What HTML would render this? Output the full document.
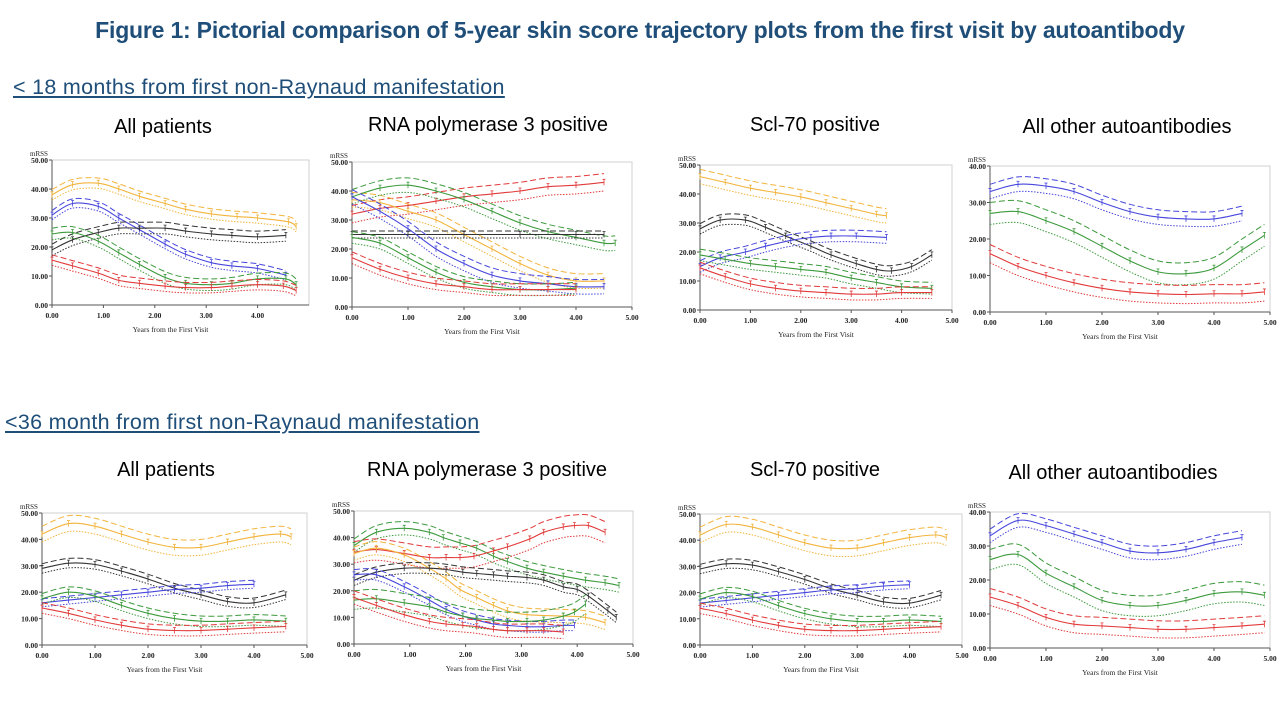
<!DOCTYPE html>
<html><head><meta charset="utf-8">
<style>
body{margin:0;width:1280px;height:720px;background:#fff;overflow:hidden;position:relative;font-family:"Liberation Sans",sans-serif}
.t{position:absolute;white-space:nowrap}
#main-title{left:0;width:1280px;text-align:center;top:17px;font-size:23px;font-weight:bold;color:#1f4e79;letter-spacing:-0.2px}
.sec{font-size:21.5px;color:#1f4e79;text-decoration:underline;letter-spacing:0.3px}
.ct{font-size:20px;color:#000;text-align:center;width:300px}
svg{position:absolute;left:0;top:0}
</style></head><body>
<div class="t" id="main-title">Figure 1: Pictorial comparison of 5-year skin score trajectory plots from the first visit by autoantibody</div>
<div class="t sec" style="left:13px;top:75px">&lt; 18 months from first non-Raynaud manifestation</div>
<div class="t sec" style="left:5px;top:410px">&lt;36 month from first non-Raynaud manifestation</div>
<div class="t ct" style="left:13px;top:116px">All patients</div>
<div class="t ct" style="left:338px;top:114px">RNA polymerase 3 positive</div>
<div class="t ct" style="left:665px;top:114px">Scl-70 positive</div>
<div class="t ct" style="left:977px;top:116px">All other autoantibodies</div>
<div class="t ct" style="left:16px;top:459px">All patients</div>
<div class="t ct" style="left:337px;top:459px">RNA polymerase 3 positive</div>
<div class="t ct" style="left:665px;top:459px">Scl-70 positive</div>
<div class="t ct" style="left:963px;top:462px">All other autoantibodies</div>
<svg id="svg" width="1280" height="720"></svg>
<script>
// ---- data (x = years, y = mRSS) ----
const c1Orange=[[0,38],[0.4,41.5],[0.9,42],[1.3,40],[1.7,37.5],[2.2,35],[2.6,33],[3.1,31.4],[3.6,30.5],[4.0,30],[4.6,28.7],[4.75,27]];
const c1Blue=[[0,31],[0.4,35],[0.9,34],[1.3,30],[1.7,26],[2.2,21],[2.6,17.5],[3.1,14.6],[3.5,13.5],[4.0,12.6],[4.55,10.3]];
const c1Black=[[0,19],[0.4,22.5],[0.9,25],[1.3,26.5],[1.7,26.5],[2.2,26.5],[2.6,25.5],[3.1,24.5],[3.5,24],[4.0,23.5],[4.55,24]];
const c1Green=[[0,24.5],[0.4,25],[0.9,22],[1.3,18],[1.7,14],[2.2,9.5],[2.6,7.5],[3.1,7],[3.5,7.5],[4.0,9],[4.55,9],[4.75,7]];
const c1Red=[[0,15.5],[0.4,13.5],[0.9,11],[1.3,8.5],[1.7,7.5],[2.2,6.5],[2.6,6],[3.1,6],[3.5,6.5],[4.0,7],[4.5,6.5],[4.75,5]];

const c2Red=[[0,32],[0.5,34],[1,35],[1.5,36.5],[2,38],[2.5,39],[3,40],[3.5,41.5],[4,42],[4.5,43]];
const c2Orange=[[0,37],[0.5,36],[1,33],[1.5,30],[2,25],[2.5,20],[3,15],[3.5,11],[4,9],[4.5,9]];
const c2Green=[[0,38],[0.5,41],[1,42],[1.5,40],[2,37],[2.5,33],[3,29],[3.5,26],[4,24],[4.5,22],[4.7,22]];
const c2Black=[[0,25],[1,25],[2,25],[3,25],[4,25],[4.5,25]];
const c2Blue=[[0,38],[0.5,33],[1,27],[1.5,20],[2,15],[2.5,11],[3,9],[3.5,8],[4,7],[4.5,7]];
const c2Green2=[[0,24],[0.5,22],[1,17],[1.5,12],[2,8.5],[2.5,7],[3,6],[3.5,6],[4,6.5]];
const c2Red2=[[0,17],[0.5,13],[1,10],[1.5,8],[2,7],[2.5,6],[3,6],[3.5,6],[4,6]];

const c3Orange=[[0,46],[0.5,44],[1,42],[1.5,40.5],[2,39],[2.5,37],[3,35],[3.5,33],[3.7,32.5]];
const c3Black=[[0,28],[0.4,31],[0.9,31],[1.3,28.5],[1.7,25.5],[2.2,22],[2.6,19],[3.1,16],[3.5,14],[3.8,13.5],[4.2,15],[4.6,19]];
const c3Blue=[[0,15],[0.4,18],[0.9,20],[1.3,22],[1.8,24],[2.2,25],[2.6,25.5],[3.1,25.5],[3.7,25]];
const c3Green=[[0,19],[0.5,17.5],[1,16],[1.5,15],[2,14],[2.5,13],[3,11],[3.5,9.5],[4,8],[4.6,7.5]];
const c3Red=[[0,14.5],[0.5,11.5],[1,9],[1.5,7.5],[2,6.5],[2.5,6],[3,5.5],[3.5,5.5],[4,6],[4.6,6]];

const c4Blue=[[0,33],[0.5,35],[1,34.5],[1.5,33],[2,30],[2.5,27.5],[3,26],[3.5,25.5],[4,25.5],[4.5,27]];
const c4Green=[[0,27],[0.5,27.5],[1,25],[1.5,22],[2,18],[2.5,14],[3,11],[3.5,10.5],[4,12],[4.5,17],[4.9,21]];
const c4Red=[[0,16],[0.5,12.5],[1,10],[1.5,8],[2,6.5],[2.5,5.5],[3,5],[3.5,4.8],[4,5],[4.5,5],[4.9,5.5]];

const c5Orange=[[0,42],[0.5,46],[1,45],[1.5,42],[2,39],[2.5,37],[3,37],[3.5,39],[4,41],[4.5,42],[4.7,41]];
const c5Black=[[0,29],[0.5,31],[1,30.5],[1.5,28],[2,25],[2.5,21.5],[3,19],[3.5,16.5],[4,16],[4.6,19]];
const c5Blue=[[0,16],[0.5,17],[1,18],[1.5,19],[2,20],[2.5,21],[3,21.5],[3.5,22.5],[4,23]];
const c5Green=[[0,17.5],[0.5,20],[1,18.5],[1.5,15],[2,12],[2.5,10],[3,9],[3.5,9],[4,9.5],[4.6,9]];
const c5Red=[[0,14],[0.5,12],[1,9.5],[1.5,7.5],[2,6],[2.5,5.5],[3,5.5],[3.5,6],[4,6.5],[4.6,7]];

const c6Green=[[0,37],[0.4,42],[0.9,43.5],[1.35,42],[1.6,40],[1.9,38],[2.2,36],[2.5,33],[2.75,31],[3.1,28.5],[3.4,27],[3.75,25.5],[4.15,24],[4.5,23],[4.75,22]];
const c6Red=[[0,34.5],[0.4,35.5],[0.9,34],[1.35,32.5],[1.65,32.5],[1.9,32.5],[2.15,33],[2.5,35],[2.75,36.5],[3.15,39.5],[3.4,42],[3.75,44],[3.95,44.5],[4.2,44.5],[4.5,42]];
const c6Orange=[[0,34],[0.4,36],[0.9,33.5],[1.35,28.5],[1.65,24.5],[1.9,20.5],[2.2,17.5],[2.5,14.5],[2.75,12.5],[3.1,11],[3.75,10.5],[4.15,10],[4.5,8]];
const c6Black=[[0,24],[0.4,27],[0.9,28.5],[1.35,28.5],[1.65,28],[1.95,27],[2.2,26.5],[2.5,26],[2.75,25.5],[3.1,25],[3.4,24],[3.75,21.5],[4.0,20.5],[4.2,18],[4.55,12.5],[4.7,10]];
const c6Blue=[[0,26],[0.4,26],[0.9,21.5],[1.35,16.5],[1.65,13],[1.95,10.5],[2.2,9],[2.5,7.5],[2.75,7],[3.1,6.5],[3.4,6.5],[3.75,7],[3.95,7]];
const c6Green2=[[0,16.5],[0.4,17],[0.9,15.5],[1.35,14],[1.65,12],[1.95,10.5],[2.2,9.5],[2.5,9],[2.75,8.5],[3.1,8.5],[3.4,9],[3.75,10.5],[3.95,12],[4.15,15]];
const c6Red2=[[0,17.5],[0.4,14.5],[0.9,11],[1.35,8.5],[1.65,7.5],[1.95,7],[2.2,6.5],[2.5,5.5],[2.75,5],[3.1,5],[3.4,5],[3.75,4.5]];

const c8Blue=[[0,33],[0.5,37.5],[1,36],[1.5,33.5],[2,31],[2.5,28.5],[3,28],[3.5,29],[4,31],[4.5,32.5]];
const c8Green=[[0,26],[0.5,27.5],[1,22],[1.5,18],[2,14],[2.5,12.5],[3,12.5],[3.5,14],[4,16],[4.5,16.5],[4.9,15.5]];
const c8Red=[[0,15],[0.5,12.5],[1,9],[1.5,7],[2,6.5],[2.5,6],[3,5.5],[3.5,5.5],[4,6],[4.5,6.5],[4.9,7]];

const yTicks50=[0,10,20,30,40,50];
const yTicks40=[0,10,20,30,40];
const xTickLabels=["0.00","1.00","2.00","3.00","4.00","5.00"];

const COL={orange:"#f2b43c",blue:"#4646dc",black:"#333333",green:"#3c9a3c",red:"#e23a3a"};
const svg=document.getElementById('svg');
const NS="http://www.w3.org/2000/svg";
function mk(tag,at,parent){const e=document.createElementNS(NS,tag);for(const k in at)e.setAttribute(k,at[k]);(parent||svg).appendChild(e);return e;}
function smooth(a){
  let d=`M${a[0][0].toFixed(1)},${a[0][1].toFixed(1)}`;
  for(let i=0;i<a.length-1;i++){
    const p0=a[Math.max(0,i-1)],p1=a[i],p2=a[i+1],p3=a[Math.min(a.length-1,i+2)];
    const c1=[p1[0]+(p2[0]-p0[0])/6,p1[1]+(p2[1]-p0[1])/6];
    const c2=[p2[0]-(p3[0]-p1[0])/6,p2[1]-(p3[1]-p1[1])/6];
    d+=`C${c1[0].toFixed(1)},${c1[1].toFixed(1)} ${c2[0].toFixed(1)},${c2[1].toFixed(1)} ${p2[0].toFixed(1)},${p2[1].toFixed(1)}`;
  }
  return d;
}
function chart(name,g,ticks,series,showX5){
  const grp=mk('g',{});
  
  
  const ymax=ticks[ticks.length-1];
  const X=v=>g.x0+v*(g.x5-g.x0)/5;
  const Y=v=>g.y0-v*(g.y0-g.yt)/ymax;
  mk('rect',{x:g.x0,y:g.yt,width:g.x5-g.x0,height:g.y0-g.yt,fill:'none',stroke:'#d0d0d0','stroke-width':1},grp);
  const ax=mk('path',{d:`M${g.x0},${g.yt}V${g.y0}H${g.x5}`,stroke:'#555',fill:'none','stroke-width':1},grp);
  
  
  ticks.forEach(t=>{
    mk('line',{x1:g.x0-3,x2:g.x0,y1:Y(t),y2:Y(t),stroke:'#555'},grp);
    const tx=mk('text',{x:g.x0-4,y:Y(t)+3,'font-size':7.5,'font-family':'Liberation Serif, serif','font-weight':'bold','text-anchor':'end',fill:'#222'},grp);
    tx.textContent=t.toFixed(2);
    
    
  });
  xTickLabels.forEach((l,i)=>{
    if(i===5&&!showX5)return;
    mk('line',{x1:X(i),x2:X(i),y1:g.y0,y2:g.y0+3,stroke:'#555'},grp);
    const tx=mk('text',{x:X(i),y:g.y0+13,'font-size':7.5,'font-family':'Liberation Serif, serif','font-weight':'bold','text-anchor':'middle',fill:'#222'},grp);
    tx.textContent=l;
    
    
  });
  const yl=mk('text',{x:g.x0-22,y:g.yt-4,'font-size':7,'font-family':'Liberation Serif, serif',fill:'#222'},grp);
  yl.textContent='mRSS';
  
  
  const xl=mk('text',{x:(g.x0+g.x5)/2-10,y:g.y0+27,'font-size':7.5,'font-family':'Liberation Serif, serif','text-anchor':'middle',fill:'#222'},grp);
  xl.textContent='Years from the First Visit';
  
  
  series.forEach(s=>{
    const c=COL[s.c];
    const pts=s.d.map(p=>[X(p[0]),Y(p[1])]);
    const up=s.d.map(p=>[X(p[0]),Y(p[1]+s.b)]);
    const lo=s.d.map(p=>[X(p[0]),Y(Math.max(0,p[1]-s.b))]);
    const u=mk('path',{d:smooth(up),fill:'none',stroke:c,'stroke-width':1,'stroke-dasharray':'6,3'},grp);
    
    
    const l=mk('path',{d:smooth(lo),fill:'none',stroke:c,'stroke-width':1,'stroke-dasharray':'1.5,1.5'},grp);
    
    
    const m=mk('path',{d:smooth(pts),fill:'none',stroke:c,'stroke-width':1.1},grp);
    
    
    pts.forEach(p=>{
      const mkr=mk('path',{d:`M${p[0]-1.5},${p[1]-3}L${p[0]+1.5},${p[1]-3}M${p[0]},${p[1]-3}V${p[1]+3}`,stroke:c,'stroke-width':0.8,fill:'none'},grp);
      
      
    });
  });
}
chart('chart-all-patients-18',{x0:52,x5:309,yt:160,y0:305},yTicks50,[
 {c:'orange',d:c1Orange,b:1.8},{c:'blue',d:c1Blue,b:1.6},{c:'black',d:c1Black,b:2},{c:'green',d:c1Green,b:2},{c:'red',d:c1Red,b:1.8}],false);
chart('chart-rna-pol3-18',{x0:352,x5:632,yt:162,y0:307},yTicks50,[
 {c:'red',d:c2Red,b:3},{c:'orange',d:c2Orange,b:2.5},{c:'green',d:c2Green,b:2.5},{c:'black',d:c2Black,b:1.2},{c:'blue',d:c2Blue,b:2.5},{c:'green',d:c2Green2,b:2},{c:'red',d:c2Red2,b:2}],true);
chart('chart-scl70-18',{x0:700,x5:952,yt:165,y0:310},yTicks50,[
 {c:'orange',d:c3Orange,b:2.5},{c:'black',d:c3Black,b:1.8},{c:'blue',d:c3Blue,b:2},{c:'green',d:c3Green,b:2},{c:'red',d:c3Red,b:2}],true);
chart('chart-other-18',{x0:990,x5:1270,yt:166,y0:312},yTicks40,[
 {c:'blue',d:c4Blue,b:2},{c:'green',d:c4Green,b:3},{c:'red',d:c4Red,b:2.5}],true);
chart('chart-all-patients-36',{x0:42,x5:307,yt:513,y0:645},yTicks50,[
 {c:'orange',d:c5Orange,b:3},{c:'black',d:c5Black,b:1.8},{c:'blue',d:c5Blue,b:1.5},{c:'green',d:c5Green,b:2},{c:'red',d:c5Red,b:2}],true);
chart('chart-rna-pol3-36',{x0:354,x5:633,yt:511,y0:644},yTicks50,[
 {c:'green',d:c6Green,b:2.5},{c:'red',d:c6Red,b:4},{c:'orange',d:c6Orange,b:2.5},{c:'black',d:c6Black,b:2},{c:'blue',d:c6Blue,b:2},{c:'green',d:c6Green2,b:3.5},{c:'red',d:c6Red2,b:2.5}],true);
chart('chart-scl70-36',{x0:700,x5:962,yt:514,y0:645},yTicks50,[
 {c:'orange',d:c5Orange,b:3},{c:'black',d:c5Black,b:1.8},{c:'blue',d:c5Blue,b:1.5},{c:'green',d:c5Green,b:2},{c:'red',d:c5Red,b:2}],true);
chart('chart-other-36',{x0:990,x5:1270,yt:512,y0:648},yTicks40,[
 {c:'blue',d:c8Blue,b:2},{c:'green',d:c8Green,b:3},{c:'red',d:c8Red,b:2.5}],true);
</script>
</body></html>
